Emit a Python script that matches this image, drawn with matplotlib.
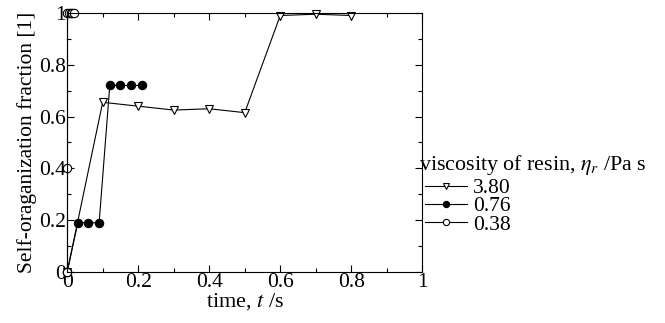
import matplotlib.pyplot as plt
from matplotlib.ticker import MultipleLocator

plt.rcParams['font.family'] = 'Liberation Serif'
plt.rcParams['mathtext.fontset'] = 'stix'

# viscosity 3.80 Pa s
t_380 = [0, 0.1, 0.2, 0.3, 0.4, 0.5, 0.6, 0.7, 0.8]
f_380 = [0, 0.655, 0.64, 0.625, 0.63, 0.615, 0.99, 0.995, 0.99]

# viscosity 0.76 Pa s
t_076 = [0, 0.03, 0.06, 0.09, 0.12, 0.15, 0.18, 0.21]
f_076 = [0, 0.19, 0.19, 0.19, 0.72, 0.72, 0.72, 0.72]

# viscosity 0.38 Pa s
t_038 = [0, 0, 0, 0.005, 0.01, 0.015, 0.02]
f_038 = [0, 0.4, 1, 1, 1, 1, 1]

labels = ['3.80', '0.76', '0.38']

fs = 15.5

fig = plt.figure(figsize=(6.65, 3.23), dpi=100)
ax = fig.add_axes([0.101, 0.158, 0.534, 0.802])

ax.plot(t_380, f_380, color='black', lw=0.8, marker='v', ms=6,
        mfc='white', mec='black', mew=0.8, clip_on=False, label=labels[0])
ax.plot(t_076, f_076, color='black', lw=0.8, marker='o', ms=6,
        mfc='black', mec='black', mew=0.8, clip_on=False, label=labels[1])
ax.plot(t_038, f_038, color='black', lw=0.8, marker='o', ms=6,
        mfc='white', mec='black', mew=0.8, clip_on=False, label=labels[2])

ax.set_xlim(0, 1)
ax.set_ylim(0, 1)
ax.xaxis.set_major_locator(MultipleLocator(0.2))
ax.xaxis.set_minor_locator(MultipleLocator(0.1))
ax.yaxis.set_major_locator(MultipleLocator(0.2))
ax.yaxis.set_minor_locator(MultipleLocator(0.1))
ax.set_xticklabels(['0', '0', '0.2', '0.4', '0.6', '0.8', '1'])
ax.set_yticklabels(['0', '0', '0.2', '0.4', '0.6', '0.8', '1'])
ax.tick_params(which='both', direction='in', top=True, right=True,
               labelsize=fs, width=0.8, pad=1)
ax.tick_params(which='major', length=5)
ax.tick_params(which='minor', length=3)
for s in ax.spines.values():
    s.set_linewidth(0.8)

ax.set_xlabel('time, $t$ /s', fontsize=fs + 0.5, labelpad=-1)
ax.set_ylabel('Self-oraganization fraction [1]', fontsize=fs, labelpad=1)

# legend title sits a little left of the handles
fig.text(0.630, 0.489, r'viscosity of resin, $\eta_r$ /Pa s',
         fontsize=fs + 0.3, ha='left', va='center')
leg = fig.legend(loc='upper left', bbox_to_anchor=(0.639, 0.449),
                 frameon=False, fontsize=fs, handlelength=1.95,
                 handletextpad=0.3, labelspacing=-0.08, borderpad=0,
                 borderaxespad=0, markerscale=0.75)

fig.savefig('out.png', dpi=100)
